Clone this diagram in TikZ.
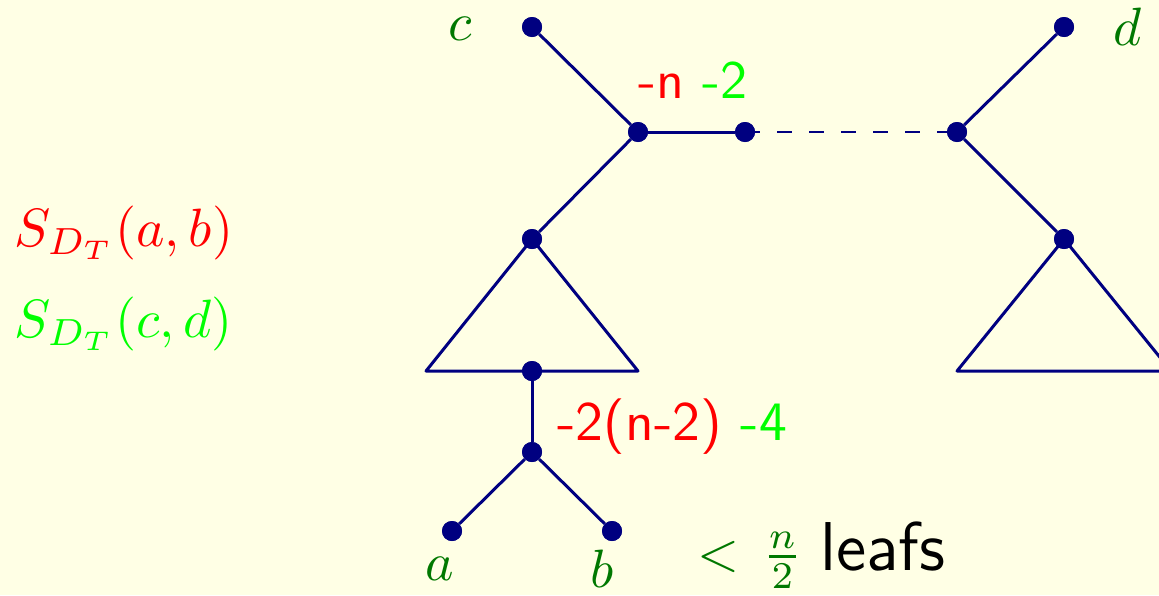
\documentclass[tikz,border=0pt]{standalone}
\usepackage{amsmath}
\definecolor{bgc}{RGB}{255,255,229}
\definecolor{navyc}{RGB}{0,0,128}
\definecolor{dgreen}{RGB}{0,120,0}
\definecolor{lgreen}{RGB}{0,255,0}
\newcommand{\bigtxt}[1]{\scalebox{2.7}{#1}}
\begin{document}
\begin{tikzpicture}[x=0.5pt,y=-0.5pt,
  dot/.style={circle,fill=navyc,inner sep=0pt,minimum size=10pt},
  edge/.style={draw=navyc,line width=1.5pt},
  thin dashes/.style={draw=navyc,line width=0.8pt,dash pattern=on 7.5pt off 8.5pt},
  lbl/.style={inner sep=0pt},
  leaflbl/.style={lbl,text=dgreen,anchor=base},
  cost/.style={lbl,font=\sffamily,anchor=base west}]
\fill[bgc] (0,0) rectangle (1159,595);
\useasboundingbox (0,0) rectangle (1159,595);
\clip (0,0) rectangle (1159,595);
% nodes
\node[dot] (c) at (532,27) {};
\node[dot] (x) at (638,132) {};
\node[dot] (y) at (745,132) {};
\node[dot] (z) at (957,132) {};
\node[dot] (d) at (1064,27) {};
\node[dot] (p) at (532,239) {};
\node[dot] (q) at (532,371) {};
\node[dot] (r) at (532,452) {};
\node[dot] (a) at (452,531) {};
\node[dot] (b) at (612,531) {};
\node[dot] (pr) at (1064,239) {};
\coordinate (tl) at (426,371);
\coordinate (tr) at (638,371);
\coordinate (trl) at (957,371);
\coordinate (trr) at (1171,371);
% edges
\draw[edge] (c) -- (x);
\draw[edge] (x) -- (y);
\draw[edge] (x) -- (p);
\draw[thin dashes] (y.center) -- (z.center);
\draw[edge] (z) -- (d);
\draw[edge] (z) -- (pr);
\draw[edge,line join=round] (p.center) -- (tl) -- (tr) -- cycle;
\draw[edge,line join=round] (pr.center) -- (trl) -- (trr) -- cycle;
\draw[edge] (q) -- (r);
\draw[edge] (r) -- (a);
\draw[edge] (r) -- (b);
% dots on top
\foreach \n in {c,x,y,z,d,p,q,r,a,b,pr} \fill[navyc] (\n) circle (5pt);
% labels
\node[leaflbl] (lc) at (460,40) {\bigtxt{$c$}};
\node[leaflbl] (ld) at (1128,45) {\bigtxt{$d$}};
\node[leaflbl] (la) at (440,580) {\bigtxt{$a$}};
\node[leaflbl] (lb) at (602,587) {\bigtxt{$b$}};
\node[cost] (k1) at (638,98) {\bigtxt{\textcolor{red}{-n} \textcolor{lgreen}{-2}}};
\node[cost] (k2) at (557,440) {\scalebox{2.78}{\textcolor{red}{-2(n-2)} \textcolor{lgreen}{-4}}};
\node[lbl,anchor=base west] (lf) at (697,570) {\bigtxt{\textcolor{dgreen}{$<\mkern2.7mu\frac{n}{2}$} {\fontsize{12.8}{15}\selectfont\sffamily leafs}}};
\node[lbl,anchor=base west,text=red] (s1) at (14,246) {\bigtxt{$S_{D_T}(a,b)$}};
\node[lbl,anchor=base west,text=lgreen] (s2) at (14,337) {\bigtxt{$S_{D_T}(c,d)$}};
\end{tikzpicture}
\end{document}
